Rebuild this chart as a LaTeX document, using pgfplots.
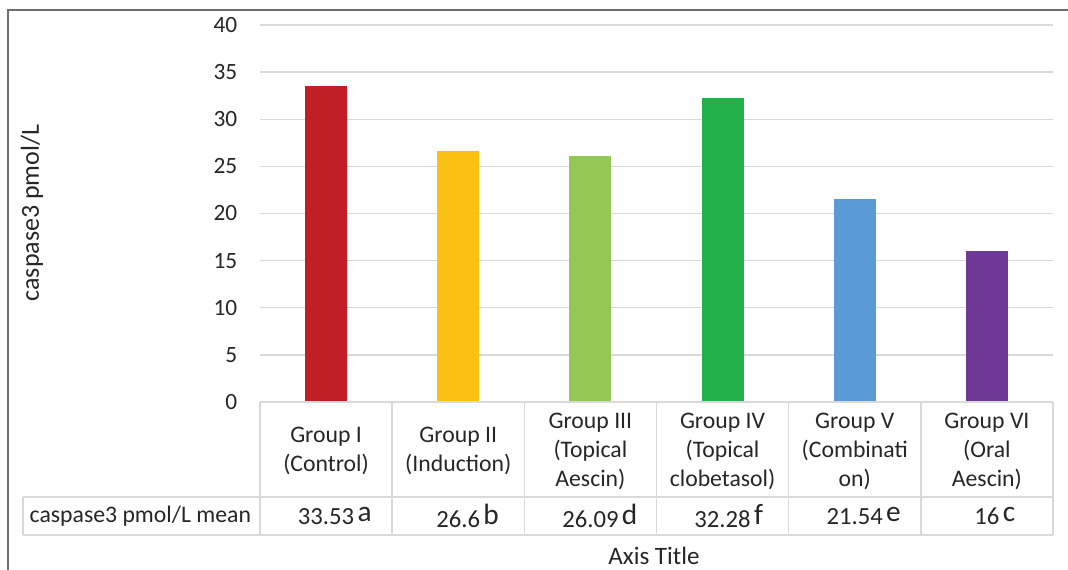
\documentclass[border=0pt]{standalone}
\usepackage{fontspec}
\setmainfont{Carlito}
\usepackage{pgfplots}
\pgfplotsset{compat=1.18}
\definecolor{gI}{HTML}{C01F25}
\definecolor{gII}{HTML}{FBC011}
\definecolor{gIII}{HTML}{92C853}
\definecolor{gIV}{HTML}{22B04B}
\definecolor{gV}{HTML}{5B9BD5}
\definecolor{gVI}{HTML}{6E3896}
\definecolor{gridgray}{HTML}{D9D9D9}
\definecolor{txt}{HTML}{262626}
\definecolor{framegray}{HTML}{6E6E6E}
\newcommand{\tabfont}{\fontsize{17.8}{21.75}\selectfont}
\newcommand{\valfont}{\fontsize{18.5}{21.75}\selectfont}
% significance letter set after the centred mean, outside its width
\newcommand{\sig}[1]{\rlap{\hspace{2.5pt}\raisebox{1.8pt}{\fontsize{22}{22}\selectfont #1}}}
\begin{document}
\begin{tikzpicture}
\useasboundingbox (0,0) rectangle (801pt,427.5pt);
\begin{axis}[
  at={(195pt,126pt)}, anchor=south west,
  scale only axis, width=594.75pt, height=282.75pt,
  xmin=-0.5, xmax=5.5, ymin=0, ymax=40,
  ytick={0,5,...,40},
  xtick={0,...,5},
  xticklabels={Group I\\(Control), Group II\\(Induction), Group III\\(Topical\\Aescin),
    Group IV\\(Topical\\clobetasol), Group V\\(Combinati\\on), Group VI\\(Oral\\Aescin)},
  xticklabel style={align=center, anchor=center, yshift=-37pt, font=\tabfont, text=txt},
  yticklabel style={anchor=east, xshift=-13.5pt, font=\fontsize{17.5}{17.5}\selectfont, text=txt},
  /pgf/number format/assume math mode=true,
  axis line style={draw=none},
  major tick length=0pt,
  ymajorgrids, grid style={gridgray, line width=1.1pt},
  clip=false,
]
\addplot[ybar, bar width=31.5pt, bar shift=0pt, fill=gI, draw=none] coordinates {(0,33.53)};
\addplot[ybar, bar width=31.5pt, bar shift=0pt, fill=gII, draw=none] coordinates {(1,26.6)};
\addplot[ybar, bar width=31.5pt, bar shift=0pt, fill=gIII, draw=none] coordinates {(2,26.09)};
\addplot[ybar, bar width=31.5pt, bar shift=0pt, fill=gIV, draw=none] coordinates {(3,32.28)};
\addplot[ybar, bar width=31.5pt, bar shift=0pt, fill=gV, draw=none] coordinates {(4,21.54)};
\addplot[ybar, bar width=31.5pt, bar shift=0pt, fill=gVI, draw=none] coordinates {(5,16)};
% mean row of the data table
\foreach \i/\v/\s in {0/33.53/a,1/26.6/b,2/26.09/d,3/32.28/f,4/21.54/e,5/16/c}{
  \edef\tmp{\noexpand\node[font=\noexpand\valfont, text=txt, anchor=center] at (axis cs:\i,0) [yshift=-85.5pt] {\v\noexpand\sig{\s}};}
  \tmp
}
\end{axis}
\begin{scope}[x=0.75pt, y=-0.75pt, yshift=427.5pt]
  % outer chart frame
  \draw[framegray, line width=1.1pt] (8,580) -- (8,10) -- (1080,10);
  % data table grid
  \begin{scope}[gridgray, line width=1.1pt]
    \draw (260,402) -- (1053,402);
    \draw (23,497) -- (1053,497);
    \draw (23,535) -- (1053,535);
    \draw (23,497) -- (23,535);
    \foreach \x in {260,392.2,524.3,656.5,788.7,920.8,1053}{\draw (\x,402) -- (\x,535);}
  \end{scope}
  \node[anchor=west, font=\tabfont, text=txt] at (25,516) {caspase3 pmol/L mean};
  \node[font=\fontsize{18.8}{18.8}\selectfont, text=txt] at (654,556) {Axis Title};
  \node[rotate=90, font=\fontsize{19.5}{19.5}\selectfont, text=txt] at (32,213) {caspase3 pmol/L};
\end{scope}
\end{tikzpicture}
\end{document}
